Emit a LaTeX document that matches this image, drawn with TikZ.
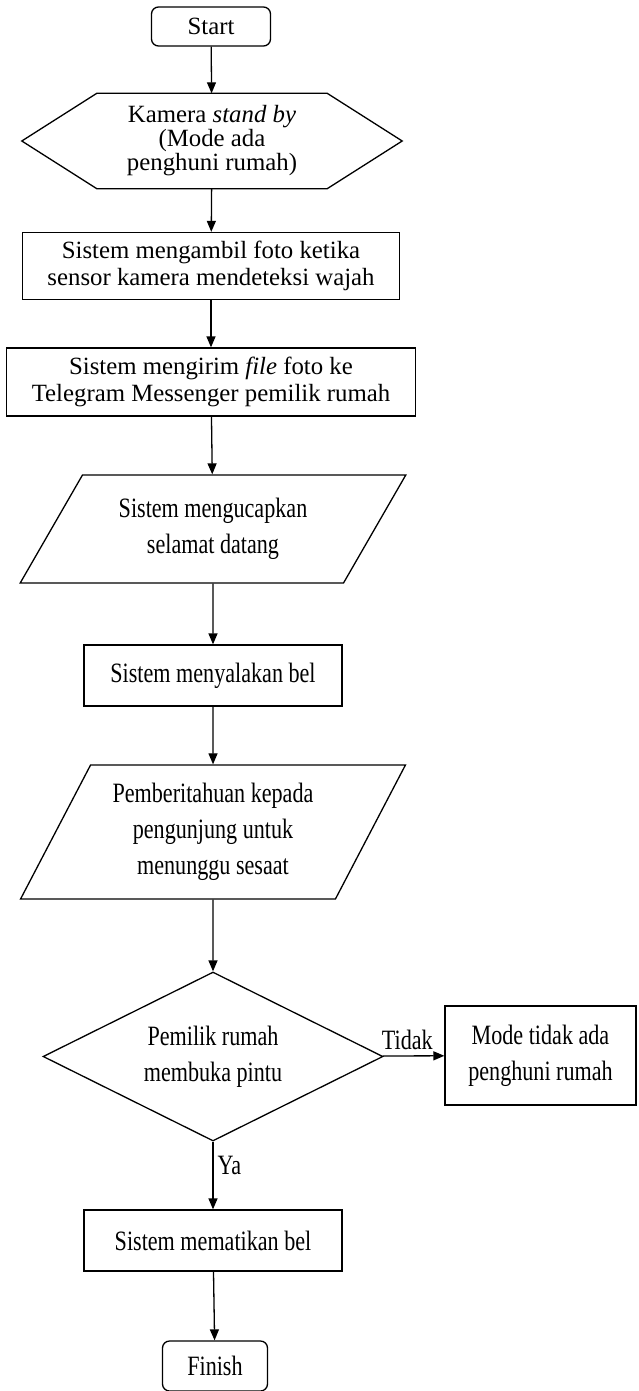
\documentclass[tikz,border=0pt]{standalone}
\usepackage{fontspec}
\setmainfont{Liberation Serif}
\newfontfamily\narrowfont{Liberation Serif}[FakeStretch=0.79]
\usetikzlibrary{shapes.geometric,arrows.meta}

\begin{document}
\begin{tikzpicture}
   [x=1pt, y=-1pt,
   plaintext/.style={font=\fontsize{24.8}{27}\selectfont},
   narrowtext/.style={font=\narrowfont\fontsize{28}{36}\selectfont},
   terminal/.style={rectangle, rounded corners=7pt, draw=black, line width=1.3pt, align=center, inner sep=0pt},
   process/.style={rectangle, draw=black, line width=1.3pt, align=center, inner sep=0pt},
   prepbox/.style={rectangle, align=center, inner sep=0pt},
   iobox/.style={trapezium, trapezium stretches=true, draw=black, line width=1.3pt, align=center, inner sep=0pt},
   decision/.style={diamond, draw=black, line width=1.3pt, align=center, inner sep=0pt},
   arrow/.style={-{Triangle[length=11pt,width=9pt]}, line width=1.3pt},
   ]
 \useasboundingbox (0,0) rectangle (638,1391);
 \clip (0,0) rectangle (638,1391);
 \node at (211,26.5) [terminal, plaintext, minimum width=119, minimum height=39] (start) {Start};
 \node at (212,141) [prepbox, plaintext, font=\fontsize{24.8}{24}\selectfont, minimum width=380, minimum height=95] (kamera) {Kamera \textit{stand by}\\(Mode ada\\penghuni rumah)};
 \draw[line width=1.3pt] (kamera.west) -- ([xshift=75pt]kamera.north west) -- ([xshift=-75pt]kamera.north east)
    -- (kamera.east) -- ([xshift=-75pt]kamera.south east) -- ([xshift=75pt]kamera.south west) -- cycle;
 \node at (211,266) [process, plaintext, minimum width=377, minimum height=67] (foto) {Sistem mengambil foto ketika\\sensor kamera mendeteksi wajah};
 \node at (211,382) [process, plaintext, minimum width=409, minimum height=68] (kirim) {Sistem mengirim \textit{file} foto ke\\Telegram Messenger pemilik rumah};
 \node at (213,529) [iobox, narrowtext, trapezium left angle=53.8, trapezium right angle=126.2, minimum width=386, minimum height=108] (ucap) {Sistem mengucapkan\\selamat datang};
 \node at (213,675.5) [process, narrowtext, minimum width=258, minimum height=61] (bel) {Sistem menyalakan bel};
 \node at (213,832) [iobox, narrowtext, trapezium left angle=59.5, trapezium right angle=120.5, minimum width=386, minimum height=134] (tunggu) {Pemberitahuan kepada\\pengunjung untuk\\menunggu sesaat};
 \node at (213,1056.5) [decision, narrowtext, minimum width=340, minimum height=169, aspect=2] (pintu) {Pemilik rumah\\membuka pintu};
 \node at (540.5,1055.5) [process, narrowtext, minimum width=191, minimum height=99] (kosong) {Mode tidak ada\\penghuni rumah};
 \node at (213,1240.5) [process, narrowtext, minimum width=258, minimum height=61] (mati) {Sistem mematikan bel};
 \node at (215,1366) [terminal, narrowtext, minimum width=105, minimum height=50] (finish) {Finish};
 % connectors
 \draw[arrow] (start) -- (kamera);
 \draw[arrow] (kamera) -- (foto);
 \draw[arrow] (foto) -- (kirim);
 \draw[arrow] (kirim) -- (ucap);
 \draw[arrow] (ucap) -- (bel);
 \draw[arrow] (bel) -- (tunggu);
 \draw[arrow] (tunggu) -- (pintu);
 \draw[arrow] (pintu) -- node[narrowtext, pos=0.4, above, inner sep=5pt] {Tidak} (kosong);
 \draw[arrow] (pintu) -- node[narrowtext, pos=0.35, right, inner sep=4pt] {Ya} (mati);
 \draw[arrow] (mati) -- (finish);
\end{tikzpicture}
\end{document}
